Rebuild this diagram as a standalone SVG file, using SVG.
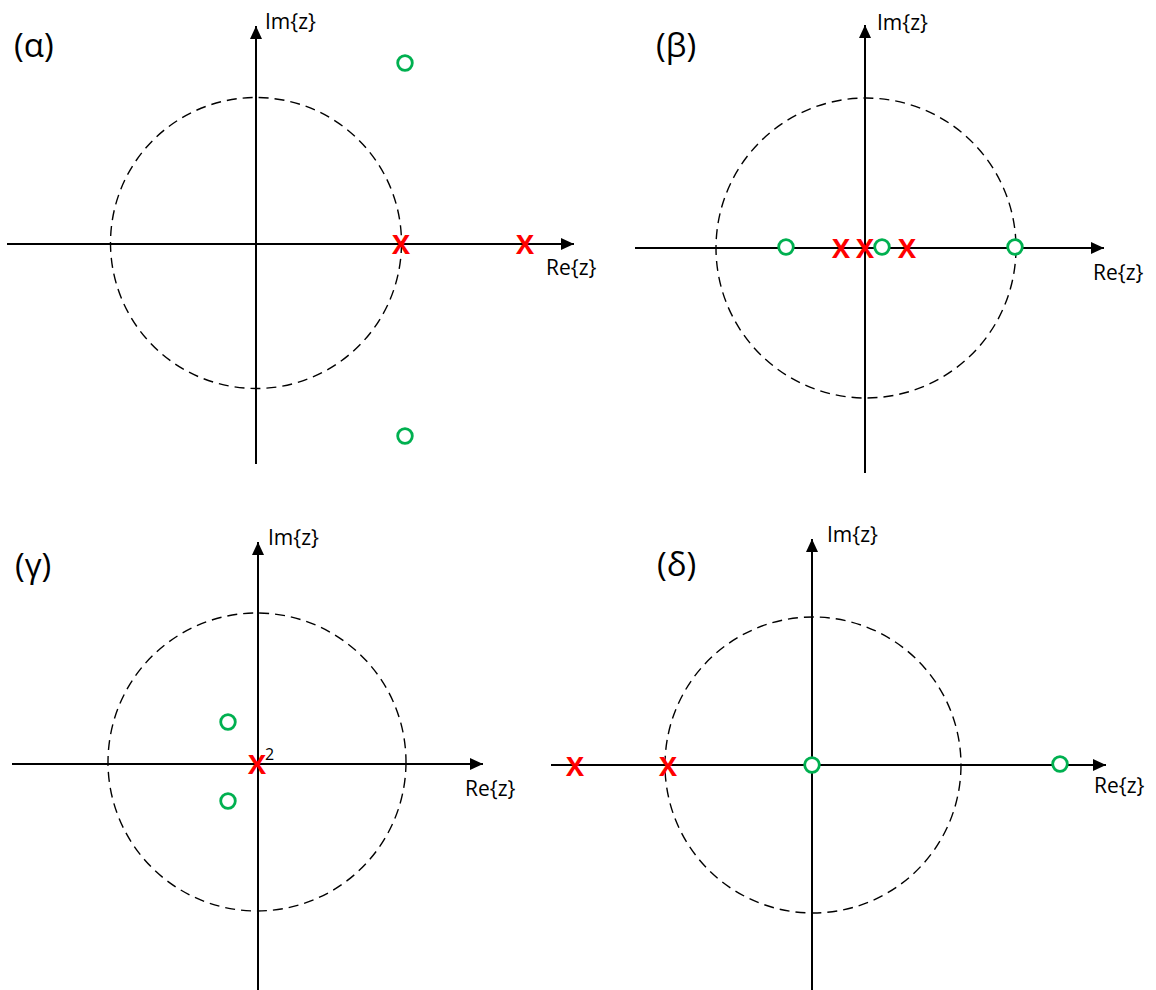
<svg xmlns="http://www.w3.org/2000/svg" width="1156" height="990" viewBox="0 0 1156 990">
<style>
.ax{stroke:#000;stroke-width:2;fill:none}
.uc{stroke:#000;stroke-width:1.4;fill:none;stroke-dasharray:10 6}
.zero{stroke:#00B050;stroke-width:2.8;fill:#fff}
.pole{fill:#FF0000;font-family:"Open Sans","Liberation Sans",sans-serif;font-weight:bold;font-size:27px;text-anchor:middle}
.lbl{fill:#000;font-family:"Open Sans","Liberation Sans",sans-serif;font-size:21px}
.ttl{fill:#000;font-family:"Open Sans","Liberation Sans",sans-serif;font-size:33px}
.sup{fill:#000;font-family:"Open Sans","Liberation Sans",sans-serif;font-size:16px}
</style>
<defs>
<marker id="arr" viewBox="0 0 13 12" refX="13" refY="6" markerWidth="13" markerHeight="12" markerUnits="userSpaceOnUse" orient="auto">
<path d="M0,0 L13,6 L0,12 Z" fill="#000"/>
</marker>
</defs>
<rect width="1156" height="990" fill="#fff"/>

<g id="connectors">
<line class="ax" x1="256" y1="464" x2="256" y2="26" marker-end="url(#arr)"/>
<line class="ax" x1="7" y1="244" x2="574" y2="244" marker-end="url(#arr)"/>
<line class="ax" x1="865" y1="473" x2="865" y2="25" marker-end="url(#arr)"/>
<line class="ax" x1="635" y1="248" x2="1104" y2="248" marker-end="url(#arr)"/>
<line class="ax" x1="258" y1="990" x2="258" y2="542" marker-end="url(#arr)"/>
<line class="ax" x1="12" y1="764" x2="483" y2="764" marker-end="url(#arr)"/>
<line class="ax" x1="812" y1="990" x2="812" y2="539" marker-end="url(#arr)"/>
<line class="ax" x1="551" y1="765" x2="1106" y2="765" marker-end="url(#arr)"/>
</g>

<g id="panel-a">
<circle class="uc" cx="256" cy="243" r="145.5"/>
<text class="ttl" x="14" y="57">(α)</text>
<text class="lbl" x="265" y="29">Im{z}</text>
<text class="lbl" x="546" y="275">Re{z}</text>
<circle class="zero" cx="405" cy="63" r="7.3"/>
<circle class="zero" cx="405" cy="436" r="7.3"/>
<text class="pole" x="401" y="254">X</text>
<text class="pole" x="525" y="254">X</text>
</g>

<g id="panel-b">
<circle class="uc" cx="866" cy="248" r="150"/>
<text class="ttl" x="656" y="57">(β)</text>
<text class="lbl" x="877" y="30">Im{z}</text>
<text class="lbl" x="1093" y="280">Re{z}</text>
<circle class="zero" cx="786" cy="247" r="7.3"/>
<circle class="zero" cx="882" cy="247" r="7.3"/>
<circle class="zero" cx="1015" cy="247" r="7.3"/>
<text class="pole" x="841" y="258">X</text>
<text class="pole" x="865" y="258">X</text>
<text class="pole" x="907" y="258">X</text>
</g>

<g id="panel-c">
<circle class="uc" cx="257" cy="762" r="149"/>
<text class="ttl" x="15" y="577">(γ)</text>
<text class="lbl" x="268" y="545">Im{z}</text>
<text class="lbl" x="465" y="796">Re{z}</text>
<circle class="zero" cx="228" cy="722" r="7.3"/>
<circle class="zero" cx="228" cy="801" r="7.3"/>
<text class="pole" x="257" y="774">X</text>
<text class="sup" x="265" y="760">2</text>
</g>

<g id="panel-d">
<circle class="uc" cx="813" cy="765" r="148"/>
<text class="ttl" x="657" y="576">(δ)</text>
<text class="lbl" x="827" y="542">Im{z}</text>
<text class="lbl" x="1094" y="793">Re{z}</text>
<circle class="zero" cx="812" cy="765" r="7.3"/>
<circle class="zero" cx="1060" cy="764" r="7.3"/>
<text class="pole" x="575" y="776">X</text>
<text class="pole" x="668" y="776">X</text>
</g>
</svg>
